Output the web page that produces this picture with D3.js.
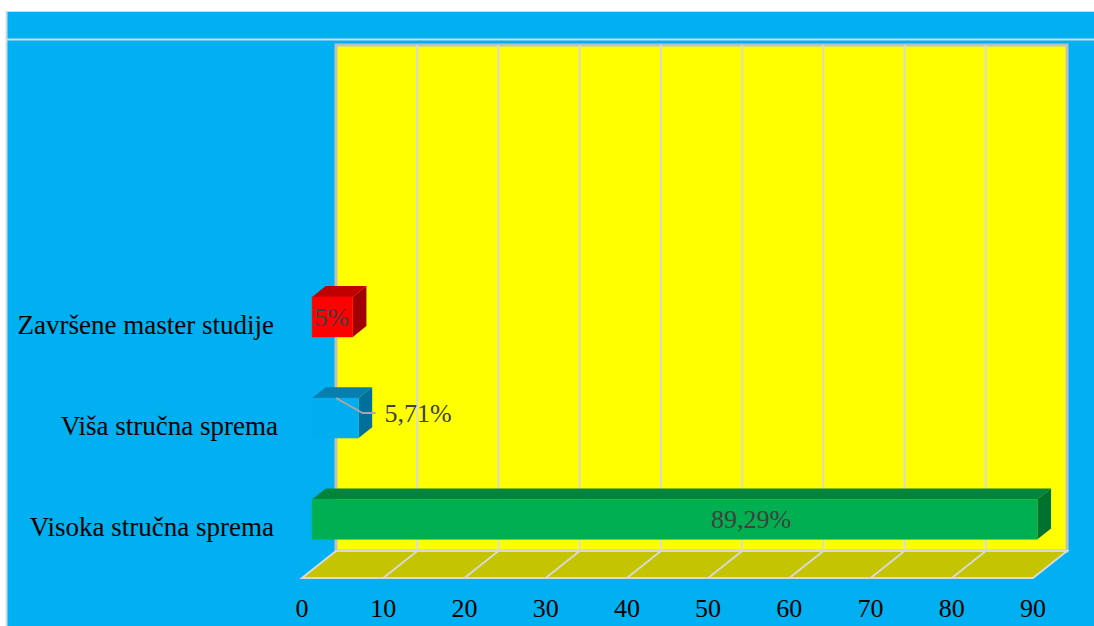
<!DOCTYPE html>
<html>
<head>
<meta charset="utf-8">
<script src="https://cdn.jsdelivr.net/npm/d3@7"></script>
<style>
  html, body { margin: 0; padding: 0; background: #ffffff; }
  svg { display: block; }
  text { font-family: "Liberation Serif", "Times New Roman", serif; }
</style>
</head>
<body>
<svg id="chart" width="1094" height="626"></svg>
<script>
// Education level of respondents (percent)
const categories = ["Visoka stručna sprema", "Viša stručna sprema", "Završene master studije"];
const values = [89.29, 5.71, 5];
const valueLabels = ["89,29%", "5,71%", "5%"];
const tickValues = [0, 10, 20, 30, 40, 50, 60, 70, 80, 90];

// colours per bar: front, top, side
const frontColors = ["#00B050", "#00AEEF", "#FF0000"];
const topColors   = ["#00853A", "#067FB0", "#C00000"];
const sideColors  = ["#00722F", "#00709A", "#A00000"];

const svg = d3.select("#chart");
const W = 1094, H = 626;

// chart area background
svg.append("rect").attr("x", 7).attr("y", 11).attr("width", W - 7).attr("height", H - 11)
  .attr("fill", "#00B0F0");
svg.append("line").attr("x1", 6.5).attr("x2", 6.5).attr("y1", 11).attr("y2", H)
  .attr("stroke", "#D9D9D9").attr("stroke-width", 2);
svg.append("line").attr("x1", 6).attr("x2", W).attr("y1", 11.5).attr("y2", 11.5)
  .attr("stroke", "#D9D9D9").attr("stroke-width", 1);
svg.append("line").attr("x1", 7).attr("x2", W).attr("y1", 39.5).attr("y2", 39.5)
  .attr("stroke", "#D6DCE4").attr("stroke-width", 2);

// 3D projection: front plane scales plus a depth vector
const DX = 34, DY = -27;
const x = d3.scaleLinear().domain([0, 90]).range([302, 1033]);
const floorY = 578;
const topY = 72;
// five rows on the category axis, the lower three are used
const slots = d3.range(5);
const y = d3.scaleBand().domain(slots).range([floorY, topY]).paddingInner(0).paddingOuter(0);
const barH = 40;
const d0 = 0.3, d1 = 0.7; // bar depth range (fraction of the floor depth)

const P = (px, py, d) => [px + DX * d, py + DY * d];
const poly = pts => "M" + pts.map(p => p.join(",")).join("L") + "Z";

// back wall
const wx0 = x(0) + DX, wx1 = x(90) + DX, wy0 = topY + DY, wy1 = floorY + DY;
svg.append("rect").attr("x", wx0).attr("y", wy0).attr("width", wx1 - wx0).attr("height", wy1 - wy0)
  .attr("fill", "#FFFF00").attr("stroke", "#C0C0C0").attr("stroke-width", 3);

// floor
svg.append("path")
  .attr("d", poly([[x(0), floorY], [x(90), floorY], P(x(90), floorY, 1), P(x(0), floorY, 1)]))
  .attr("fill", "#C4C400").attr("stroke", "#D9D9D9").attr("stroke-width", 2);

// gridlines on wall and floor
const grid = svg.append("g").attr("stroke", "#D9D9D9").attr("stroke-width", 2);
tickValues.slice(1, -1).forEach(v => {
  grid.append("line").attr("x1", x(v) + DX).attr("x2", x(v) + DX).attr("y1", wy0).attr("y2", wy1);
  grid.append("line").attr("x1", x(v)).attr("y1", floorY).attr("x2", x(v) + DX).attr("y2", wy1);
});

// 3D bars
const bars = svg.append("g");
values.forEach((v, i) => {
  const cy = y(i) + y.bandwidth() / 2;
  const xa = x(0), xb = x(v);
  const ya = cy - barH / 2, yb = cy + barH / 2;
  const f = [P(xa, ya, d0), P(xb, ya, d0), P(xb, yb, d0), P(xa, yb, d0)];
  const t = [P(xa, ya, d0), P(xb, ya, d0), P(xb, ya, d1), P(xa, ya, d1)];
  const s = [P(xb, ya, d0), P(xb, ya, d1), P(xb, yb, d1), P(xb, yb, d0)];
  bars.append("path").attr("d", poly(t)).attr("fill", topColors[i]);
  bars.append("path").attr("d", poly(s)).attr("fill", sideColors[i]);
  bars.append("path").attr("d", poly(f)).attr("fill", frontColors[i])
    .attr("stroke", frontColors[i]).attr("stroke-width", 0.5);
});

// value labels
const lab = svg.append("g").attr("fill", "#404040").attr("font-size", 26);
values.forEach((v, i) => {
  const cy = y(i) + y.bandwidth() / 2 + DY * d0;
  const xa = x(0) + DX * d0, xb = x(v) + DX * d0;
  if (i === 0) {
    lab.append("text").attr("x", xa + (xb - xa) * 0.605).attr("y", cy).attr("dy", "0.35em")
      .attr("text-anchor", "middle").text(valueLabels[i]);
  } else if (i === 1) {
    // label outside with a leader line
    const lx = xb + 26;
    const ly = cy - 5;
    svg.append("path")
      .attr("d", `M${xa + 24},${cy - 20}L${lx - 22},${ly}L${lx - 9},${ly}`)
      .attr("fill", "none").attr("stroke", "#A6A6A6").attr("stroke-width", 2);
    lab.append("text").attr("x", lx).attr("y", ly).attr("dy", "0.35em")
      .attr("text-anchor", "start").text(valueLabels[i]);
  } else {
    lab.append("text").attr("x", (xa + xb) / 2 - 1).attr("y", cy).attr("dy", "0.35em")
      .attr("text-anchor", "middle").text(valueLabels[i]);
  }
});

// category labels
const cat = svg.append("g").attr("fill", "#000").attr("font-size", 27).attr("text-anchor", "end");
categories.forEach((c, i) => {
  cat.append("text").attr("x", i === 1 ? 278 : 274).attr("y", y(i) + y.bandwidth() / 2).attr("dy", "0.33em").text(c);
});

// value axis tick labels
svg.append("g").attr("fill", "#000").attr("font-size", 26).attr("text-anchor", "middle")
  .selectAll("text").data(tickValues).join("text")
  .attr("x", d => x(d)).attr("y", 617).text(d => d);
</script>
</body>
</html>
